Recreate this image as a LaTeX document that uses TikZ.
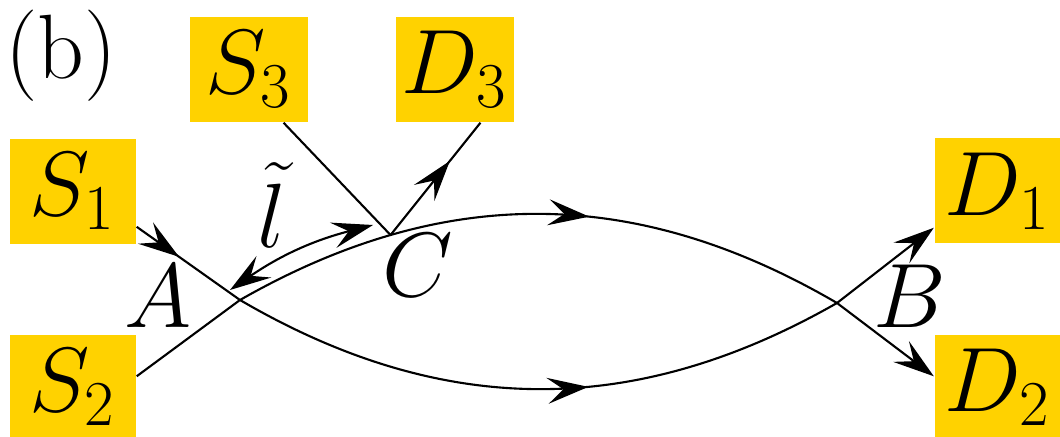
\RequirePackage{fix-cm}
\documentclass[tikz,border=0pt]{standalone}
\usepackage{amsmath}
\usetikzlibrary{arrows.meta, decorations.markings}
\definecolor{boxgold}{HTML}{FFD200}

\begin{document}
\begin{tikzpicture}[
  >={Stealth[length=4.1mm, width=2.6mm, inset=1.6mm]},
  terminal/.style={fill=boxgold, minimum width=1.26cm, minimum height=1.05cm,
                   inner sep=0pt, font=\fontsize{26}{30}\selectfont},
  terminal3/.style={terminal, minimum width=1.18cm},
  marker/.style={inner sep=0pt, font=\fontsize{26}{30}\selectfont},
  wire/.style={line width=0.6pt},
  midarrow/.style={postaction={decorate},
                   decoration={markings, mark=at position #1 with {\arrow{>}}}},
]
\useasboundingbox (0, 0) rectangle (10.6, 4.36);

\node[marker] (title) at (0.61, 3.80) {(b)};

\node[terminal] (S1) at (0.73, 2.445) {$S_1$};
\node[terminal] (S2) at (0.73, 0.485) {$S_2$};
\node[terminal3] (S3) at (2.49, 3.665) {$S_3$};
\node[terminal3] (D3) at (4.545, 3.665) {$D_3$};
\node[terminal] (D1) at (9.975, 2.45) {$D_1$};
\node[terminal] (D2) at (9.975, 0.485) {$D_2$};

\coordinate (A) at (2.40, 1.36);
\coordinate (B) at (8.37, 1.33);
\coordinate (lA) at (2.30, 1.46);
\coordinate (lC) at (3.73, 2.11);

% lower lens arc: S1 -> D1
\draw[wire, midarrow=0.41] (S1.-29) -- (A);
\draw[wire, midarrow=0.58] (A) to[bend right=30] (B);
\draw[wire, ->] (B) -- (D1.210);

% upper lens arc: S2 -> D2, passes C
\draw[wire] (S2.10) -- (A);
\draw[wire, midarrow=0.58] (A) to[bend left=30] coordinate[pos=0.25] (C) (B);
\draw[wire, ->] (B) -- (D2.170);

\draw[wire] (S3.-57) -- (C);
\draw[wire, midarrow=0.66] (C) -- (D3.-64);

\draw[wire, <->] (lA) to[bend left=10] (lC);

\node[marker] (labA) at (1.58, 1.40) {$A$};
\node[marker] (labC) at (4.18, 1.71) {$C$};
\node[marker] (labB) at (9.10, 1.40) {$B$};
\node[marker] (labl) at (2.72, 2.31) {$\tilde{l}$};

\end{tikzpicture}
\end{document}
